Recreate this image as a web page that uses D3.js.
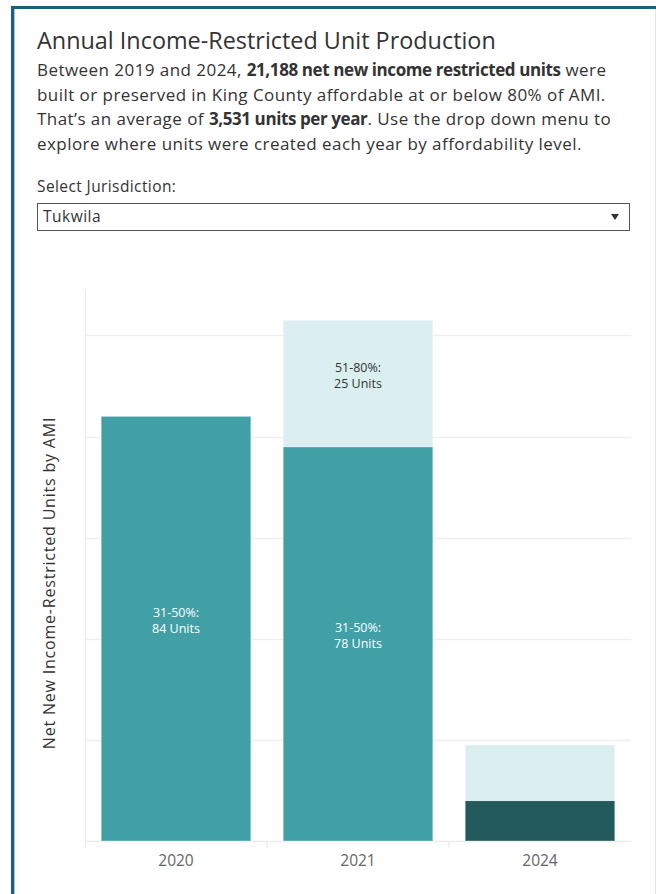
<!DOCTYPE html>
<html>
<head>
<meta charset="utf-8">
<script src="https://cdn.jsdelivr.net/npm/d3@7"></script>
<style>
  body { margin: 0; background: #fff; }
  svg text { font-family: "Open Sans", "Noto Sans", sans-serif; }
</style>
</head>
<body>
<script>
const years = ["2020", "2021", "2024"];
const levels = ["0-30%", "31-50%", "51-80%"];
const units0to30 = [0, 0, 8];
const units31to50 = [84, 78, 0];
const units51to80 = [0, 25, 11];
const gridTicks = [20, 40, 60, 80, 100];

const levelColors = ["#235b5d", "#40a0a6", "#dbeff0"];
const labelColors = ["#ffffff", "#ffffff", "#333333"];

const width = 656;
const height = 894;

const rows = years.map((year, i) => {
	return {
		year: year,
		"0-30%": units0to30[i],
		"31-50%": units31to50[i],
		"51-80%": units51to80[i]
	};
});

const svg = d3.select("body")
	.append("svg")
	.attr("width", width)
	.attr("height", height);

// dashboard frame
svg.append("rect")
	.attr("x", 12.5).attr("y", 7.5)
	.attr("width", width).attr("height", height)
	.attr("fill", "none")
	.attr("stroke", "#1c5f7e")
	.attr("stroke-width", 3);
svg.append("line")
	.attr("x1", 14.5).attr("x2", 14.5)
	.attr("y1", 9).attr("y2", height)
	.attr("stroke", "#a9c6d4");
svg.append("line")
	.attr("x1", 655.5).attr("x2", 655.5)
	.attr("y1", 9).attr("y2", height)
	.attr("stroke", "#e4e4e4");

// header text
svg.append("text")
	.attr("x", 37).attr("y", 49)
	.attr("font-size", 23.4)
	.attr("fill", "#333")
	.text("Annual Income-Restricted Unit Production");

const bodyLines = [
	[["Between 2019 and 2024, ", false], ["21,188 net new income restricted units", true], [" were", false]],
	[["built or preserved in King County affordable at or below 80% of AMI.", false]],
	[["That\u2019s an average of ", false], ["3,531 units per year", true], [". Use the drop down menu to", false]],
	[["explore where units were created each year by affordability level.", false]]
];

bodyLines.forEach((line, i) => {
	const t = svg.append("text")
		.attr("x", 37)
		.attr("y", 76 + i * 24.5)
		.attr("font-size", 17)
		.attr("fill", "#333");
	line.forEach(part => {
		t.append("tspan")
			.attr("font-weight", part[1] ? "bold" : "normal")
			.attr("letter-spacing", part[1] ? -0.4 : 0.45)
			.text(part[0]);
	});
});

svg.append("text")
	.attr("x", 37).attr("y", 192)
	.attr("font-size", 15.5)
	.attr("letter-spacing", 0.4)
	.attr("fill", "#333")
	.text("Select Jurisdiction:");

svg.append("rect")
	.attr("x", 37.5).attr("y", 203.5)
	.attr("width", 592).attr("height", 27)
	.attr("fill", "#fff")
	.attr("stroke", "#555");
svg.append("text")
	.attr("x", 43).attr("y", 222)
	.attr("font-size", 15.5)
	.attr("letter-spacing", 0.5)
	.attr("fill", "#333")
	.text("Tukwila");
svg.append("path")
	.attr("d", "M611,214 L619,214 L615,220 Z")
	.attr("fill", "#333");

// chart
const plotLeft = 85;
const plotRight = 631;
const plotTop = 290;
const plotBottom = 841;

const scaleX = d3.scaleBand()
	.domain(years)
	.range([plotLeft, plotRight])
	.paddingInner(0.178)
	.paddingOuter(0.089);

const scaleY = d3.scaleLinear()
	.domain([0, 109])
	.range([plotBottom, plotTop]);

svg.append("g")
	.selectAll("line")
	.data(gridTicks)
	.join("line")
	.attr("x1", plotLeft).attr("x2", plotRight)
	.attr("y1", d => Math.round(scaleY(d)) + 0.5)
	.attr("y2", d => Math.round(scaleY(d)) + 0.5)
	.attr("stroke", "#efefef")
	.attr("stroke-width", 1.5);

svg.append("line")
	.attr("x1", plotLeft + 0.5).attr("x2", plotLeft + 0.5)
	.attr("y1", plotTop).attr("y2", plotBottom + 7)
	.attr("stroke", "#ececec");

const axisX = d3.axisBottom(scaleX).tickSize(0).tickPadding(14);
const gx = svg.append("g")
	.attr("class", "scale-x")
	.attr("transform", `translate(0,${plotBottom})`)
	.call(axisX);
gx.select(".domain").attr("stroke", "#ececec").attr("stroke-width", 1.5);
gx.selectAll("text")
	.attr("font-size", 15.5)
	.attr("fill", "#666")
	.style("font-family", "'Open Sans', 'Noto Sans', sans-serif");

// band dividers on x axis
svg.append("g")
	.selectAll("line")
	.data(years.slice(1))
	.join("line")
	.attr("x1", d => scaleX(d) - scaleX.step() * scaleX.paddingInner() / 2)
	.attr("x2", d => scaleX(d) - scaleX.step() * scaleX.paddingInner() / 2)
	.attr("y1", plotBottom).attr("y2", plotBottom + 7)
	.attr("stroke", "#e4e4e4");

const stacked = d3.stack().keys(levels)(rows);

const layers = svg.append("g")
	.selectAll("g")
	.data(stacked)
	.join("g")
	.attr("fill", (d, i) => levelColors[i]);

layers.selectAll("rect")
	.data(d => d)
	.join("rect")
	.attr("x", d => scaleX(d.data.year))
	.attr("width", scaleX.bandwidth())
	.attr("y", d => scaleY(d[1]))
	.attr("height", d => scaleY(d[0]) - scaleY(d[1]))
	.attr("stroke", "rgba(255,255,255,0.35)")
	.attr("stroke-width", d => d[1] > d[0] ? 1 : 0);

// segment labels
stacked.forEach((layer, li) => {
	const labelData = layer.filter(d => d[1] - d[0] >= 20);
	const g = svg.append("g")
		.selectAll("text")
		.data(labelData)
		.join("text")
		.attr("text-anchor", "middle")
		.attr("font-size", 12.5)
		.attr("fill", labelColors[li])
		.attr("x", d => scaleX(d.data.year) + scaleX.bandwidth() / 2)
		.attr("y", d => (scaleY(d[0]) + scaleY(d[1])) / 2 - 12);
	g.append("tspan")
		.attr("x", d => scaleX(d.data.year) + scaleX.bandwidth() / 2)
		.text(levels[li] + ":");
	g.append("tspan")
		.attr("x", d => scaleX(d.data.year) + scaleX.bandwidth() / 2)
		.attr("dy", 16.5)
		.text(d => (d[1] - d[0]) + " Units");
});

// y axis title
svg.append("text")
	.attr("transform", "translate(55,583) rotate(-90)")
	.attr("text-anchor", "middle")
	.attr("font-size", 16)
	.attr("letter-spacing", 0.8)
	.attr("fill", "#333")
	.text("Net New Income-Restricted Units by AMI");
</script>
</body>
</html>
